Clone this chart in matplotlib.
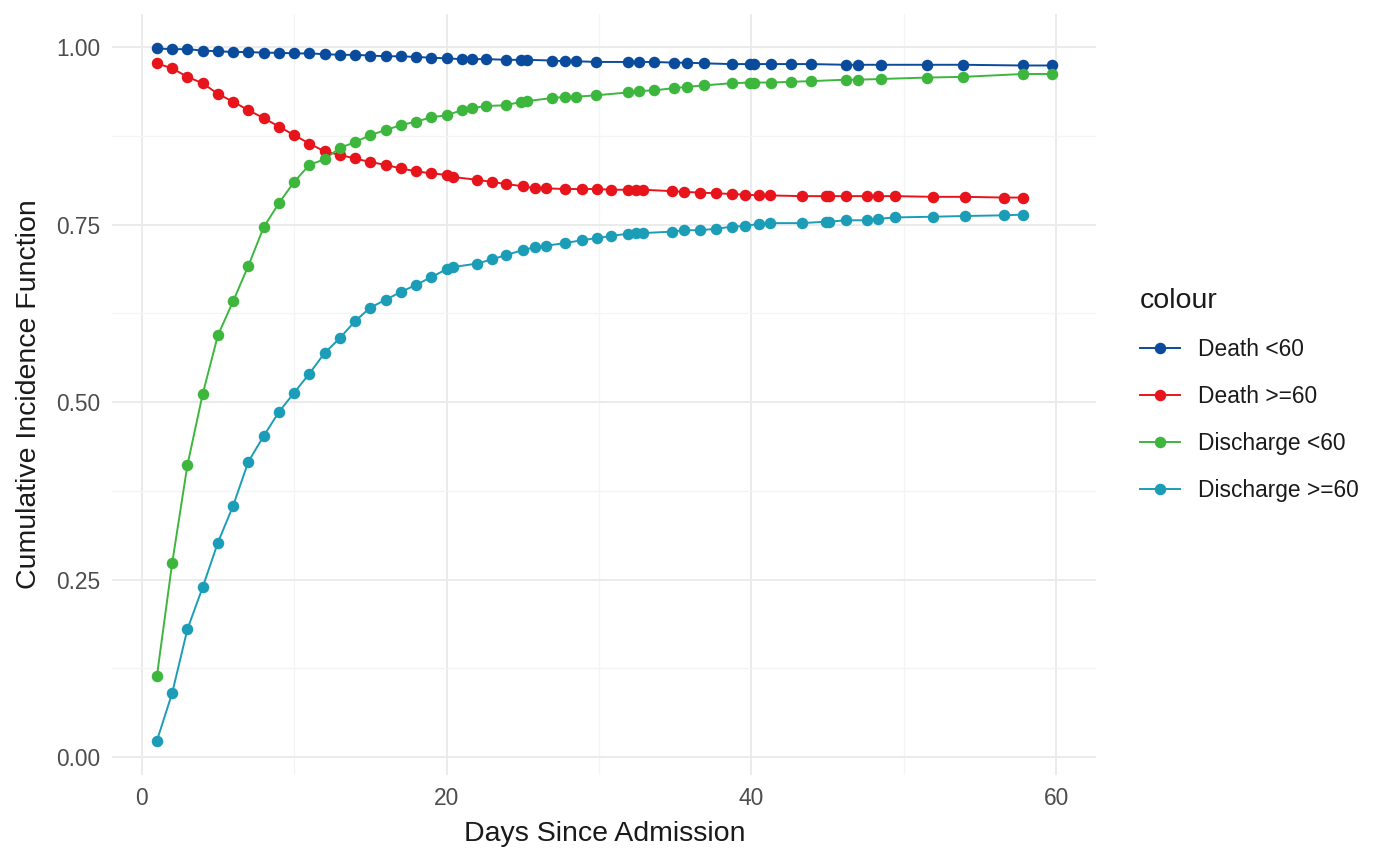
import matplotlib
matplotlib.use("Agg")
import matplotlib.pyplot as plt
from matplotlib.lines import Line2D
from matplotlib.ticker import FixedLocator

plt.rcParams["font.family"] = ["Liberation Sans", "DejaVu Sans"]

# event times, patients < 60 (death and discharge share them)
days_lt60 = [1, 2, 3, 4, 5, 6, 7, 8, 9, 10, 11, 12, 13, 14, 15, 16, 17, 18, 19, 20,
             21, 21.7, 22.6, 23.9, 24.9, 25.3, 26.9, 27.8, 28.5, 29.8, 31.9, 32.6,
             33.6, 34.9, 35.8, 36.9, 38.7, 39.9, 40.2, 41.3, 42.6, 43.9, 46.2, 47.0,
             48.5, 51.5, 53.9, 57.8, 59.7]

# event times, patients >= 60
days_ge60 = [1, 2, 3, 4, 5, 6, 7, 8, 9, 10, 11, 12, 13, 14, 15, 16, 17, 18, 19, 20,
             20.4, 22.0, 23.0, 23.9, 25.0, 25.8, 26.5, 27.8, 28.9, 29.9, 30.8, 31.9,
             32.4, 32.9, 34.8, 35.6, 36.6, 37.7, 38.7, 39.6, 40.5, 41.2, 43.3, 44.9,
             45.1, 46.2, 47.6, 48.3, 49.4, 51.9, 54.0, 56.6, 57.8]

death_lt60 = [0.998, 0.997, 0.997, 0.995, 0.994, 0.993, 0.993, 0.992, 0.992, 0.991,
              0.991, 0.990, 0.989, 0.989, 0.988, 0.987, 0.987, 0.986, 0.985, 0.984,
              0.983, 0.983, 0.983, 0.982, 0.982, 0.982, 0.981, 0.980, 0.980, 0.979,
              0.979, 0.979, 0.979, 0.978, 0.978, 0.977, 0.976, 0.976, 0.976, 0.976,
              0.976, 0.976, 0.975, 0.975, 0.975, 0.975, 0.975, 0.974, 0.974]

discharge_lt60 = [0.114, 0.273, 0.411, 0.511, 0.594, 0.642, 0.692, 0.746, 0.780, 0.810,
                  0.834, 0.842, 0.858, 0.866, 0.876, 0.883, 0.890, 0.895, 0.901, 0.904,
                  0.911, 0.914, 0.917, 0.918, 0.923, 0.924, 0.928, 0.930, 0.930, 0.932,
                  0.936, 0.938, 0.939, 0.942, 0.944, 0.946, 0.949, 0.950, 0.950, 0.950,
                  0.951, 0.952, 0.954, 0.954, 0.955, 0.957, 0.958, 0.962, 0.962]

death_ge60 = [0.977, 0.970, 0.958, 0.949, 0.934, 0.923, 0.911, 0.900, 0.888, 0.876,
              0.864, 0.853, 0.848, 0.843, 0.838, 0.834, 0.829, 0.825, 0.822, 0.820,
              0.817, 0.813, 0.810, 0.807, 0.804, 0.801, 0.801, 0.800, 0.800, 0.800,
              0.799, 0.799, 0.799, 0.799, 0.797, 0.796, 0.795, 0.794, 0.793, 0.792,
              0.791, 0.791, 0.790, 0.790, 0.790, 0.790, 0.790, 0.790, 0.790, 0.789,
              0.789, 0.788, 0.788]

discharge_ge60 = [0.023, 0.090, 0.180, 0.239, 0.302, 0.354, 0.416, 0.452, 0.486, 0.513,
                  0.540, 0.569, 0.590, 0.614, 0.633, 0.644, 0.655, 0.665, 0.676, 0.687,
                  0.690, 0.695, 0.701, 0.707, 0.714, 0.718, 0.720, 0.724, 0.728, 0.731,
                  0.734, 0.737, 0.738, 0.738, 0.740, 0.742, 0.742, 0.744, 0.747, 0.748,
                  0.751, 0.752, 0.752, 0.754, 0.754, 0.756, 0.756, 0.758, 0.760, 0.761,
                  0.762, 0.763, 0.764]

series = [
    ("Death <60", days_lt60, death_lt60, "#0A4B9C"),
    ("Death >=60", days_ge60, death_ge60, "#E8141C"),
    ("Discharge <60", days_lt60, discharge_lt60, "#3DB63D"),
    ("Discharge >=60", days_ge60, discharge_ge60, "#1B9DB8"),
]

x_ticks = [0, 20, 40, 60]
y_ticks = [0.0, 0.25, 0.5, 0.75, 1.0]
y_tick_labels = ["0.00", "0.25", "0.50", "0.75", "1.00"]

fig = plt.figure(figsize=(13.73, 8.49), dpi=100)
ax = fig.add_axes([0.0817, 0.0868, 0.7169, 0.8969])

# lines first, points on top (geom_line + geom_point)
for name, x, y, col in series:
    ax.plot(x, y, color=col, linewidth=1.4, zorder=2)
for name, x, y, col in series:
    ax.plot(x, y, linestyle="none", marker="o", markersize=8.3,
            color=col, markeredgewidth=0, zorder=3)

ax.margins(x=0.05, y=0.05)
ax.set_xticks(x_ticks)
ax.set_yticks(y_ticks)
ax.set_yticklabels(y_tick_labels)
ax.xaxis.set_minor_locator(FixedLocator([10, 30, 50]))
ax.yaxis.set_minor_locator(FixedLocator([0.125, 0.375, 0.625, 0.875]))
ax.grid(True, which="major", color="#EBEBEB", linewidth=1.4, zorder=0)
ax.grid(True, which="minor", color="#F4F4F4", linewidth=0.9, zorder=0)
ax.set_axisbelow(True)
for s in ax.spines.values():
    s.set_visible(False)
ax.tick_params(which="both", length=0, labelsize=16.4, labelcolor="#4D4D4D", pad=8.5)

ax.set_xlabel("Days Since Admission", fontsize=20.5, color="#1A1A1A", labelpad=8)
ax.set_ylabel("Cumulative Incidence Function", fontsize=20.5, color="#1A1A1A", labelpad=10)

handles = [Line2D([0], [0], color=col, linewidth=1.4, marker="o", markersize=8.3,
                  markeredgewidth=0) for name, x, y, col in series]
labels = [name for name, x, y, col in series]
leg = ax.legend(handles, labels, title="colour", loc="center left",
                bbox_to_anchor=(0.822, 0.535), bbox_transform=fig.transFigure,
                frameon=False, fontsize=16.4, title_fontsize=20.5,
                handlelength=1.75, handletextpad=0.8, labelspacing=1.05,
                borderpad=0, alignment="left")
for t in leg.get_texts():
    t.set_color("#1A1A1A")
leg.get_title().set_color("#1A1A1A")

fig.savefig("out.png", dpi=100, facecolor="white")
